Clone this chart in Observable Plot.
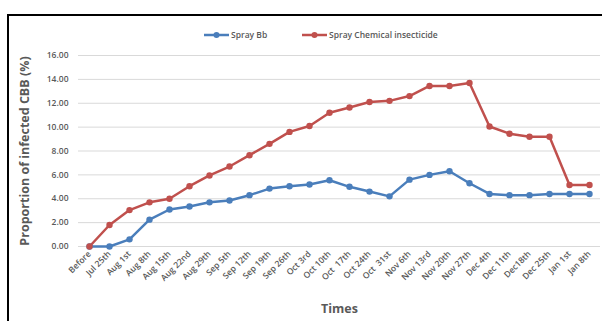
<!DOCTYPE html>
<html>
<head>
<meta charset="utf-8">
<script src="https://cdn.jsdelivr.net/npm/d3@7"></script>
<script src="https://cdn.jsdelivr.net/npm/@observablehq/plot@0.6"></script>
<style>
  html, body { margin: 0; padding: 0; background: #fff; }
  #wrap { position: relative; width: 602px; height: 321px; overflow: hidden; font-family: "Open Sans", sans-serif; }
  #frame { position: absolute; left: 7px; top: 14px; width: 620px; height: 340px; border-top: 2px solid #000; border-left: 2px solid #000; box-sizing: border-box; }
  #legend { position: absolute; top: 29px; left: 0; width: 602px; height: 12px; font-size: 8.5px; font-weight: 600; color: #595959; }
  .item { position: absolute; display: flex; align-items: center; white-space: nowrap; }
  #chart { position: absolute; left: 0; top: 0; }
</style>
</head>
<body>
<div id="wrap">
  <div id="frame"></div>
  <div id="chart"></div>
  <div id="legend"></div>
</div>
<script>
const times = ["Before","Jul 25th","Aug 1st","Aug 8th","Aug 15th","Aug 22nd","Aug 29th","Sep 5th","Sep 12th","Sep 19th","Sep 26th","Oct 3rd","Oct 10th","Oct  17th","Oct 24th","Oct  31st","Nov 6th","Nov 13rd","Nov 20th","Nov 27th","Dec 4th","Dec 11th","Dec18th","Dec 25th","Jan 1st","Jan 8th"];
const sprayBb = [0, 0, 0.6, 2.25, 3.1, 3.35, 3.7, 3.85, 4.3, 4.85, 5.05, 5.2, 5.55, 5.0, 4.6, 4.2, 5.6, 6.0, 6.3, 5.3, 4.4, 4.3, 4.3, 4.4, 4.4, 4.4];
const sprayChem = [0, 1.8, 3.05, 3.7, 4.0, 5.05, 5.95, 6.7, 7.65, 8.6, 9.6, 10.1, 11.2, 11.65, 12.1, 12.2, 12.6, 13.45, 13.45, 13.7, 10.05, 9.45, 9.2, 9.2, 5.15, 5.15];
const seriesNames = ["Spray Bb", "Spray Chemical insecticide"];
const seriesColors = ["#4a7ebb", "#c0504d"];
const yTicks = [0, 2, 4, 6, 8, 10, 12, 14, 16];

const rows = [];
times.forEach((t, i) => {
  rows.push({time: t, value: sprayBb[i], series: seriesNames[0]});
  rows.push({time: t, value: sprayChem[i], series: seriesNames[1]});
});

const chart = Plot.plot({
  width: 602,
  height: 321,
  marginLeft: 78,
  marginRight: 2,
  marginTop: 55,
  marginBottom: 75,
  style: {fontFamily: "Open Sans, sans-serif", color: "#595959", background: "transparent"},
  x: {type: "point", domain: times, padding: 0.5},
  y: {domain: [0, 16]},
  color: {domain: seriesNames, range: seriesColors},
  marks: [
    Plot.gridY(yTicks, {stroke: "#d9d9d9", strokeOpacity: 1, strokeWidth: 1}),
    Plot.axisY(yTicks, {tickFormat: d3.format(".2f"), tickSize: 0, tickPadding: 10, fontSize: 8.5, fontWeight: 600, fill: "#595959",
      label: "Proportion of infected CBB (%)", labelAnchor: "center", labelArrow: "none", labelOffset: 58}),
    Plot.axisX({tickRotate: -45, tickSize: 0, tickPadding: 6, fontSize: 8.5, fontWeight: 600, fill: "#595959",
      label: "Times", labelAnchor: "center", labelArrow: "none", labelOffset: 66}),
    Plot.line(rows, {x: "time", y: "value", z: "series", stroke: "series", strokeWidth: 2.5}),
    Plot.dot(rows, {x: "time", y: "value", fill: "series", r: 3.2})
  ]
});
// style axis labels
chart.querySelectorAll("g[aria-label='y-axis label'] text, g[aria-label='x-axis label'] text").forEach(t => {
  t.setAttribute("font-weight", "bold");
  t.setAttribute("font-size", "12.5");
});
document.getElementById("chart").appendChild(chart);

const legendPos = [{left: 204}, {left: 302}];
const legend = document.getElementById("legend");
seriesNames.forEach((name, i) => {
  const d = document.createElement("div");
  d.className = "item";
  d.style.left = legendPos[i].left + "px";
  d.innerHTML = `<svg width="25" height="8" style="margin-right:2px"><line x1="0" y1="4" x2="25" y2="4" stroke="${seriesColors[i]}" stroke-width="2.5"/><circle cx="12.5" cy="4" r="3" fill="${seriesColors[i]}"/></svg><span>${name}</span>`;
  legend.appendChild(d);
});
</script>
</body>
</html>
